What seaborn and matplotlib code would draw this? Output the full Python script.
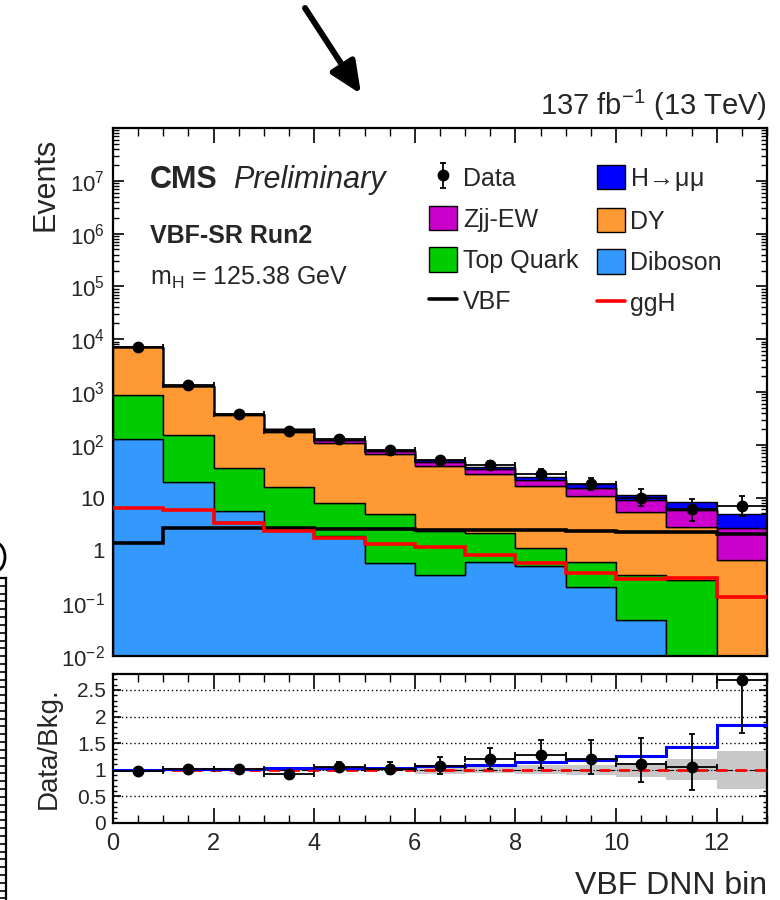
import numpy as np
import pandas as pd
import matplotlib
matplotlib.use("Agg")
import matplotlib.pyplot as plt
import seaborn as sns
from matplotlib.lines import Line2D
from matplotlib.patches import Patch, Arc
from matplotlib.ticker import FixedLocator, FuncFormatter, MultipleLocator, LogLocator, NullFormatter

# ---- binning -------------------------------------------------------------
bin_edges = np.arange(0, 14)
bin_centers = bin_edges[:-1] + 0.5

# ---- expected yields per VBF DNN bin -------------------------------------
diboson   = [128, 20, 5.6, 2.6, 1.9, 0.58, 0.345, 0.59, 0.51, 0.20, 0.048, 0.0, 0.0]
top_quark = [762, 134, 30.4, 13.3, 6.1, 4.32, 2.0, 1.57, 0.58, 0.41, 0.29, 0.27, 0.0]
dy        = [6320, 1126, 326, 162, 99, 63, 37.5, 26.3, 15.8, 10.1, 5.06, 2.46, 0.67]
zjj_ew    = [35, 24, 14, 17, 14, 8.5, 7.7, 5.7, 5.1, 4.3, 3.6, 3.0, 1.93]
h_mumu    = [8, 8.5, 6, 5, 4.5, 3.0, 3.5, 3.1, 3.1, 2.9, 2.4, 2.4, 2.2]
vbf       = [1.36, 2.7, 2.6, 2.6, 2.5, 2.5, 2.45, 2.4, 2.4, 2.3, 2.25, 2.2, 2.05]
ggh       = [6.3, 5.8, 3.25, 2.33, 1.74, 1.32, 1.15, 0.82, 0.58, 0.38, 0.29, 0.30, 0.13]

# ---- observed data and uncertainties --------------------------------------
data        = [7100, 1330, 384, 180, 128, 78, 51, 41, 28, 18, 10, 6, 7]
data_err_lo = [84, 36, 19.1, 12.9, 10.8, 8.3, 7.1, 6.4, 5.3, 4.2, 3.1, 2.4, 2.6]
data_err_hi = [85, 37, 20.1, 14.0, 11.8, 9.4, 8.2, 7.4, 6.3, 5.3, 4.3, 3.6, 3.8]
mc_unc_rel  = [0.01, 0.012, 0.015, 0.02, 0.025, 0.03, 0.07, 0.06, 0.085, 0.09, 0.135, 0.2, 0.36]

# stacking order: seaborn puts the first hue level on top of the stack
processes = ["H→μμ", "Zjj-EW", "DY", "Top Quark", "Diboson"]
colors = {"Diboson": "#3399ff", "Top Quark": "#00cc00", "DY": "#ff9933",
          "Zjj-EW": "#cc00cc", "H→μμ": "#0000ff"}

# ---- style -----------------------------------------------------------------
sns.set_theme(style="ticks")
plt.rcParams["font.family"] = ["Liberation Sans", "DejaVu Sans"]
plt.rcParams.update({
    "mathtext.fontset": "custom",
    "mathtext.rm": "Liberation Sans",
    "mathtext.it": "Liberation Sans:italic",
    "mathtext.bf": "Liberation Sans:bold",
    "mathtext.default": "regular",
    "axes.linewidth": 1.6,
    "axes.edgecolor": "black",
})

fig = plt.figure(figsize=(7.8, 9), dpi=100)
ax = fig.add_axes([113 / 780, 1 - 656 / 900, 654 / 780, 528 / 900])
rax = fig.add_axes([113 / 780, 1 - 823 / 900, 654 / 780, 149 / 900])

# ---- stacked backgrounds + signal --------------------------------------------
yields = {"Diboson": diboson, "Top Quark": top_quark, "DY": dy,
          "Zjj-EW": zjj_ew, "H→μμ": h_mumu}
df = pd.DataFrame({
    "bin": np.tile(bin_centers, len(processes)),
    "events": np.concatenate([yields[p] for p in processes]),
    "process": np.repeat(processes, len(bin_centers)),
})
ax.set_yscale("log")
sns.histplot(data=df, x="bin", weights="events", hue="process", hue_order=processes,
             palette=colors, multiple="stack", bins=[float(b) for b in bin_edges],
             element="step", fill=True, alpha=1, edgecolor="black", linewidth=1.0,
             legend=False, ax=ax)

ax.stairs(vbf, bin_edges, baseline=None, color="black", lw=2.6, zorder=6)
ax.stairs(ggh, bin_edges, baseline=None, color="red", lw=2.6, zorder=6)
ax.errorbar(bin_centers, data, xerr=0.5, yerr=[data_err_lo, data_err_hi], fmt="o",
            color="black", ms=7.5, elinewidth=1.3, capsize=2.5, capthick=1.3, zorder=10)

ax.set_xlim(0, 13)
ax.set_ylim(1e-2, 1e8)
ax.set_xlabel("")


def log_label(v, pos):
    e = int(round(np.log10(v)))
    if e == 8:
        return ""
    if e == 0:
        return "1"
    if e == 1:
        return "10"
    return r"$10^{%d}$" % e


ax.xaxis.set_major_locator(MultipleLocator(2))
ax.xaxis.set_minor_locator(MultipleLocator(0.5))
ax.yaxis.set_major_locator(FixedLocator(10.0 ** np.arange(-2, 9)))
ax.yaxis.set_minor_locator(LogLocator(base=10, subs=np.arange(2, 10), numticks=100))
ax.yaxis.set_major_formatter(FuncFormatter(log_label))
ax.yaxis.set_minor_formatter(NullFormatter())
ax.tick_params(which="both", direction="in", top=True, right=True, labelbottom=False,
               labelsize=16, color="black")
ax.tick_params(axis="x", which="major", length=11, width=1.2)
ax.tick_params(axis="x", which="minor", length=5.5, width=1.0)
ax.tick_params(axis="y", which="major", length=8, width=1.2, pad=6)
ax.tick_params(axis="y", which="minor", length=4, width=1.0)

ax.set_ylabel("Events", fontsize=22, loc="top")
ax.yaxis.set_label_coords(-0.081, 0.981)

# ---- labels inside the frame ---------------------------------------------
ax.text(0.0566, 0.886, "CMS", transform=ax.transAxes, fontsize=22,
        fontweight="bold", ha="left", va="baseline")
ax.text(0.1835, 0.886, "Preliminary", transform=ax.transAxes, fontsize=22,
        fontstyle="italic", ha="left", va="baseline")
ax.text(0.0566, 0.783, "VBF-SR Run2", transform=ax.transAxes, fontsize=18,
        fontweight="bold", ha="left", va="baseline")
ax.text(0.0566, 0.703, r"m$_{H}$ = 125.38 GeV", transform=ax.transAxes, fontsize=18,
        ha="left", va="baseline")
ax.text(1.0, 1.0246, r"137 fb$^{-1}$ (13 TeV)", transform=ax.transAxes, fontsize=21,
        ha="right", va="baseline")

# ---- legend ------------------------------------------------------------------
data_handle = ax.errorbar([np.nan], [np.nan], yerr=[[1], [1]], fmt="o", color="black",
                          ms=7.5, elinewidth=1.3, capsize=2.5, capthick=1.3)


def box(p):
    return Patch(facecolor=colors[p], edgecolor="black", linewidth=1.0)


handles = [data_handle, box("Zjj-EW"), box("Top Quark"), Line2D([], [], color="black", lw=2.6),
           box("H→μμ"), box("DY"), box("Diboson"), Line2D([], [], color="red", lw=2.6)]
labels = ["Data", "Zjj-EW", "Top Quark", "VBF", r"H$\!\rightarrow\!$μμ", "DY", "Diboson", "ggH"]
leg = ax.legend(handles, labels, ncol=2, loc="upper left", bbox_to_anchor=(0.4832, 0.93),
                frameon=False, fontsize=18, handlelength=1.12, handleheight=1.12,
                handletextpad=0.23, columnspacing=0.73, labelspacing=0.62,
                borderaxespad=0, borderpad=0)
leg.get_texts()[4].set_math_fontfamily("dejavusans")

# ---- ratio panel ---------------------------------------------------------------
bkg = np.array(diboson) + np.array(top_quark) + np.array(dy) + np.array(zjj_ew)
unc = np.array(mc_unc_rel)
rax.stairs(1 + unc, bin_edges, baseline=1 - unc, fill=True, color="#c8c8c8", lw=0, zorder=1)
for yv in [0.5, 1.5, 2.0, 2.5]:
    rax.axhline(yv, color="black", ls=(0, (1, 2)), lw=1.0, zorder=2)
rax.axhline(1.0, color="black", ls="-.", lw=0.8, zorder=2)
rax.axhline(1.0, color="red", ls=(0, (4, 3)), lw=2.0, zorder=3)
rax.stairs((bkg + np.array(h_mumu)) / bkg, bin_edges, baseline=None, color="blue",
           lw=2.2, zorder=4)
rax.errorbar(bin_centers, np.array(data) / bkg, xerr=0.5,
             yerr=[np.array(data_err_lo) / bkg, np.array(data_err_hi) / bkg],
             fmt="o", color="black", ms=7.5, elinewidth=1.3, capsize=2.5, capthick=1.3,
             zorder=10, clip_on=True)

rax.set_xlim(0, 13)
rax.set_ylim(0, 2.8)
rax.xaxis.set_major_locator(MultipleLocator(2))
rax.xaxis.set_minor_locator(MultipleLocator(0.5))
rax.yaxis.set_major_locator(FixedLocator([0, 0.5, 1, 1.5, 2, 2.5]))
rax.yaxis.set_minor_locator(MultipleLocator(0.1))
rax.yaxis.set_major_formatter(FuncFormatter(lambda v, p: "%g" % v))
rax.tick_params(which="both", direction="in", top=True, right=True, color="black")
rax.tick_params(axis="x", which="major", length=11, width=1.2, labelsize=17, pad=7)
rax.tick_params(axis="x", which="minor", length=6, width=1.0)
rax.tick_params(axis="y", which="major", length=6, width=1.2, labelsize=15, pad=5)
rax.tick_params(axis="y", which="minor", length=3, width=1.0)
rax.set_xlabel("VBF DNN bin", fontsize=23, loc="right", labelpad=12)
rax.set_ylabel("Data/Bkg.", fontsize=20)
rax.yaxis.set_label_coords(-0.078, 0.5)

# ---- neighbouring frame at the left border ---------------------------------------
side = fig.add_axes([-0.05, 0, 0.05 + 6 / 780, 1 - 578 / 900])
side.set_xlim(0, 1)
side.set_ylim(0, 41.2)
for s in ["left", "bottom"]:
    side.spines[s].set_visible(False)
side.spines["right"].set_linewidth(1.6)
side.spines["top"].set_linewidth(1.6)
side.set_xticks([])
side.yaxis.set_major_locator(FixedLocator(41.2 - np.arange(1, 42)))
side.tick_params(axis="y", which="both", direction="in", left=False, right=True,
                 labelleft=False, labelright=False, length=5, width=1.2, color="black")
# closing bracket of the neighbouring axis title, clipped by the border
fig.add_artist(Arc((-6 / 780, 1 - 557 / 900), 22 / 780, 30 / 900, theta1=-75, theta2=75,
                   transform=fig.transFigure, color="black", lw=2.0))

# ---- pointer arrow above the frame -------------------------------------------------
ax.annotate("", xy=(361, 900 - 94), xytext=(305, 900 - 8), xycoords="figure pixels",
            textcoords="figure pixels", annotation_clip=False,
            arrowprops=dict(arrowstyle="-|>,head_length=1.9,head_width=0.85", lw=4.3,
                            color="black", shrinkA=0, shrinkB=0, mutation_scale=10))

fig.savefig("out.png", dpi=100)
